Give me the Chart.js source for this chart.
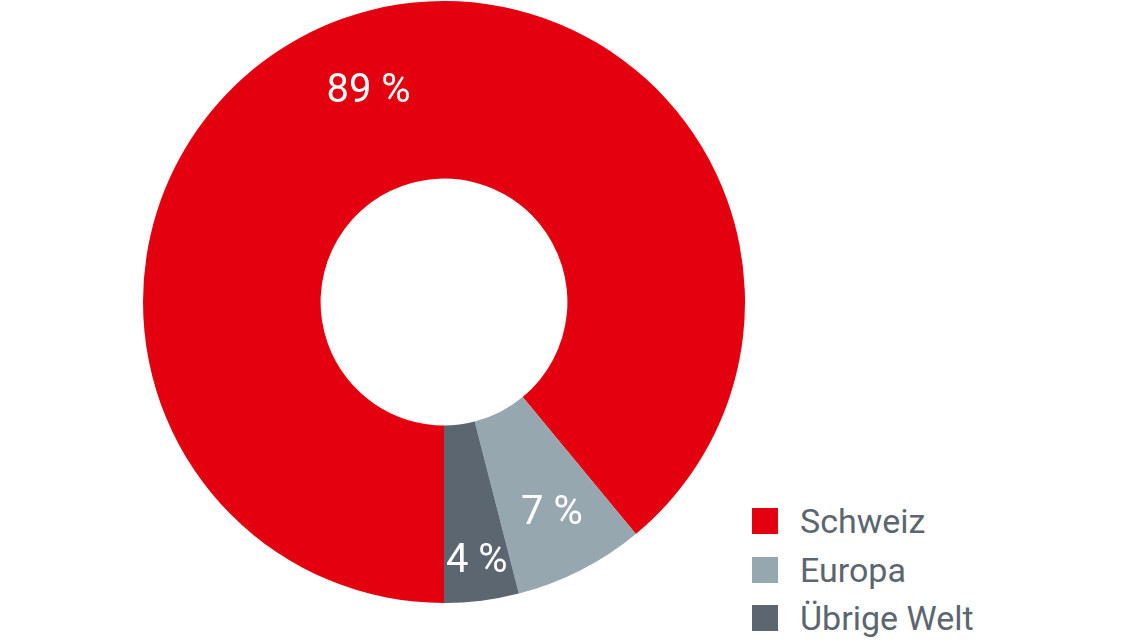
<!DOCTYPE html>
<html>
<head>
<meta charset="utf-8">
<script src="https://cdn.jsdelivr.net/npm/chart.js@4"></script>
<style>
  body { margin: 0; background: #fff; font-family: Roboto, sans-serif; }
  #wrap { position: absolute; left: 143px; top: 1px; width: 602px; height: 602px; }
  #legend { position: absolute; left: 752px; top: 497px; color: #5b6670; font-size: 34px; }
  .item { display: flex; align-items: center; height: 48.5px; }
  .box { width: 26px; height: 26px; margin-right: 22px; }
</style>
</head>
<body>
<div id="wrap"><canvas id="myChart"></canvas></div>
<div id="legend"></div>
<script>
// Daten
const categories = ['Schweiz', 'Europa', 'Übrige Welt'];
const values = [89, 7, 4];
const colors = ['#e3000f', '#97a7b0', '#5b6670'];
const labelRadius = [0.74, 0.79, 0.87];

const legend = document.getElementById('legend');
categories.forEach((c, i) => {
  legend.innerHTML += '<div class="item"><div class="box" style="background:' + colors[i] + '"></div>' + c + '</div>';
});

const pctLabels = {
  id: 'pctLabels',
  afterDatasetsDraw(chart) {
    const ctx = chart.ctx;
    const meta = chart.getDatasetMeta(0);
    ctx.save();
    ctx.fillStyle = '#fff';
    ctx.font = '40px Roboto, sans-serif';
    ctx.textAlign = 'center';
    ctx.textBaseline = 'middle';
    meta.data.forEach((arc, i) => {
      const mid = (arc.startAngle + arc.endAngle) / 2;
      const r = arc.outerRadius * labelRadius[i];
      ctx.fillText(values[i] + ' %', arc.x + Math.cos(mid) * r, arc.y + Math.sin(mid) * r);
    });
    ctx.restore();
  }
};

const cti = document.getElementById('myChart');
new Chart(cti, {
  type: 'doughnut',
  data: {
    labels: categories,
    datasets: [{
      data: values,
      backgroundColor: colors,
      borderWidth: 0
    }]
  },
  options: {
    animation: false,
    maintainAspectRatio: false,
    cutout: '41%',
    rotation: 180,
    plugins: { legend: { display: false }, tooltip: { enabled: false } }
  },
  plugins: [pctLabels]
});
</script>
</body>
</html>
